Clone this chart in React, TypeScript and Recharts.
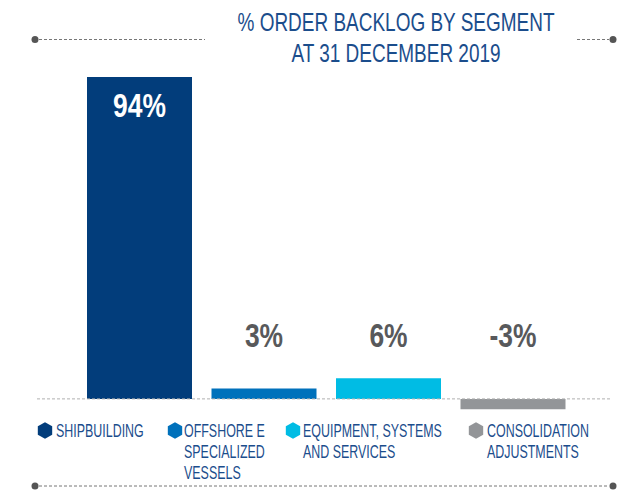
import { BarChart, Bar, Cell, XAxis, YAxis, ReferenceLine, LabelList } from "recharts";

// segments and their share of the order backlog (%)
const segments = [
  "SHIPBUILDING",
  "OFFSHORE E SPECIALIZED VESSELS",
  "EQUIPMENT, SYSTEMS AND SERVICES",
  "CONSOLIDATION ADJUSTMENTS",
];
const backlogShare = [94, 3, 6, -3];
const valueLabels = ["94%", "3%", "6%", "-3%"];
const legendLines = [
  ["SHIPBUILDING"],
  ["OFFSHORE E", "SPECIALIZED", "VESSELS"],
  ["EQUIPMENT, SYSTEMS", "AND SERVICES"],
  ["CONSOLIDATION", "ADJUSTMENTS"],
];
const titleLines = ["% ORDER BACKLOG BY SEGMENT", "AT 31 DECEMBER 2019"];

const COLORS = ["#023d7b", "#0071bb", "#00bce4", "#939598"];
const NAVY_TEXT = "#1b4d8c";
const FONT = "'Liberation Sans', Arial, sans-serif";
const LABEL_Y = 347;

// legend layout (icon centre x, text start x)
const legendIconX = [45, 175, 293, 476];
const legendTextX = [56, 184, 303, 487];

const data = segments.map((name, i) => ({
  name,
  value: backlogShare[i],
  label: valueLabels[i],
}));

const hexPath = (cx: number, cy: number, r: number) => {
  const pts = [];
  for (let k = 0; k < 6; k++) {
    const a = ((-90 + k * 60) * Math.PI) / 180;
    pts.push(`${(cx + r * Math.cos(a)).toFixed(2)},${(cy + r * Math.sin(a)).toFixed(2)}`);
  }
  return `M${pts.join("L")}Z`;
};

const renderValueLabel = (props: any) => {
  const { x, y, width, value, index } = props;
  const cx = Number(x) + Number(width) / 2;
  const inside = index === 0;
  const ty = inside ? Number(y) + 40 : LABEL_Y;
  return (
    <g transform={`translate(${cx},${ty}) scale(0.8,1)`}>
      <text
        x={0}
        y={0}
        textAnchor="middle"
        fontFamily={FONT}
        fontSize={33}
        fontWeight={600}
        fill={inside ? "#ffffff" : "#58595b"}
      >
        {value}
      </text>
    </g>
  );
};

const Baseline = (props: any) => {
  const { x1, y1, x2, y2 } = props;
  return (
    <line
      x1={x1 - 40}
      y1={y1}
      x2={x2 + 36}
      y2={y2}
      stroke="#b0b0b0"
      strokeWidth={1}
      strokeDasharray="3 2"
    />
  );
};

function Decorations() {
  return (
    <svg
      width={634}
      height={491}
      style={{ position: "absolute", left: 0, top: 0, pointerEvents: "none" }}
    >
      {/* title */}
      {titleLines.map((t, i) => (
        <g key={t} transform={`translate(396,${i === 0 ? 31 : 62}) scale(0.73,1)`}>
          <text x={0} y={0} textAnchor="middle" fontFamily={FONT} fontSize={26} fill={NAVY_TEXT}>
            {t}
          </text>
        </g>
      ))}
      {/* top rule */}
      <circle cx={35} cy={39.5} r={3.5} fill="#555" />
      <line x1={39} y1={39.5} x2={205} y2={39.5} stroke="#777" strokeDasharray="3 2" />
      <line x1={577} y1={39.5} x2={609} y2={39.5} stroke="#777" strokeDasharray="3 2" />
      <circle cx={613} cy={39.5} r={3.5} fill="#555" />
      {/* bottom rule */}
      <circle cx={35} cy={486} r={3.5} fill="#555" />
      <line x1={39} y1={486} x2={609} y2={486} stroke="#777" strokeDasharray="3 2" />
      <circle cx={613} cy={486} r={3.5} fill="#555" />
      {/* legend */}
      {legendLines.map((lines, i) => (
        <g key={segments[i]}>
          <path d={hexPath(legendIconX[i], 430.5, 8.3)} fill={COLORS[i]} />
          {lines.map((ln, j) => (
            <g key={ln} transform={`translate(${legendTextX[i]},${437 + j * 21}) scale(0.655,1)`}>
              <text x={0} y={0} fontFamily={FONT} fontSize={19} fill={NAVY_TEXT}>
                {ln}
              </text>
            </g>
          ))}
        </g>
      ))}
    </svg>
  );
}

export default function App() {
  return (
    <div
      style={{
        position: "absolute",
        left: 0,
        top: 0,
        width: 634,
        height: 491,
        background: "#ffffff",
        overflow: "hidden",
      }}
    >
      <BarChart
        width={634}
        height={491}
        data={data}
        margin={{ top: 77, right: 59, bottom: 75, left: 77 }}
      >
        <XAxis dataKey="name" hide height={0} />
        <YAxis hide domain={[-5, 94]} allowDataOverflow width={0} />
        <Bar dataKey="value" barSize={105} isAnimationActive={false}>
          {data.map((d, i) => (
            <Cell key={d.name} fill={COLORS[i]} />
          ))}
          <LabelList dataKey="label" content={renderValueLabel} />
        </Bar>
        <ReferenceLine y={0} shape={<Baseline />} />
      </BarChart>
      <Decorations />
    </div>
  );
}
